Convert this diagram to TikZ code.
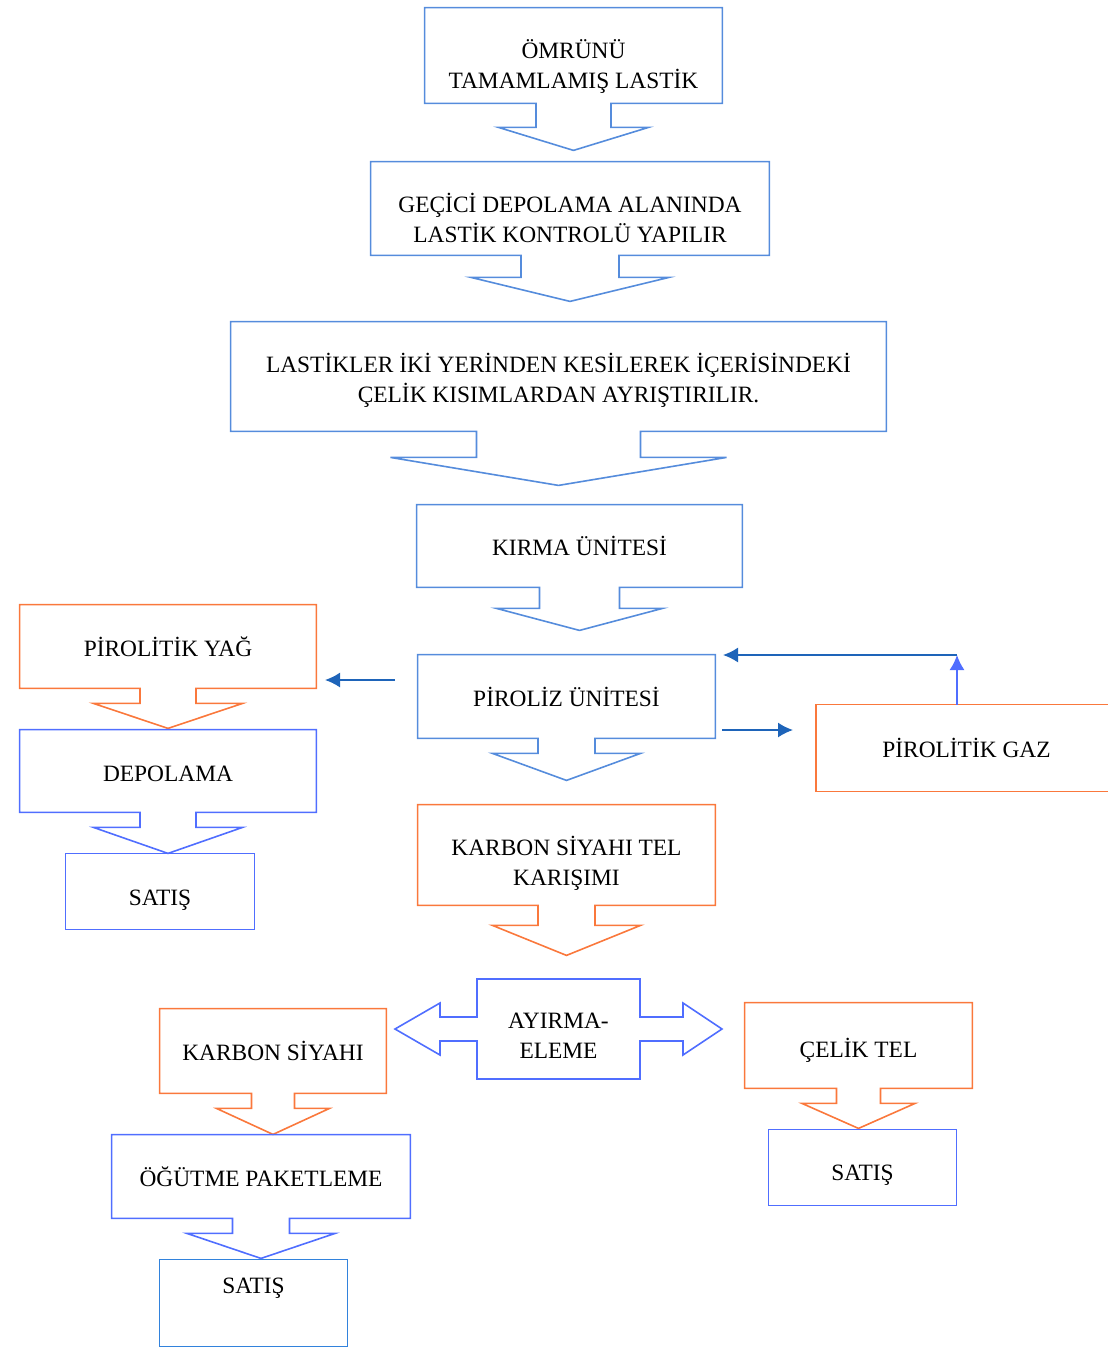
\documentclass[tikz,border=0pt]{standalone}
\usepackage{fontspec}
\setmainfont{Liberation Serif}
\usetikzlibrary{arrows.meta}
\usetikzlibrary{calc}

\definecolor{topblue}{RGB}{85,140,220}
\definecolor{violetblue}{RGB}{80,110,255}
\definecolor{satisblue}{RGB}{50,130,220}
\definecolor{boxorange}{RGB}{250,120,60}
\definecolor{arrowblue}{RGB}{30,100,185}

% box with a hollow arrow below it
% #1 node, #2 colour, #3 stem half width, #4 head half width, #5 stem length, #6 head length
\newcommand{\downcallout}[6]{%
  \draw[#2, outline] ($(#1.south)+(#3,0)$) -- (#1.south east) -- (#1.north east) -- (#1.north west) -- (#1.south west)
    -- ($(#1.south)+(-#3,0)$) -- ($(#1.south)+(-#3,#5)$) -- ($(#1.south)+(-#4,#5)$)
    -- ($(#1.south)+(0,#5+#6)$) -- ($(#1.south)+(#4,#5)$) -- ($(#1.south)+(#3,#5)$) -- cycle;}
% pushes the text of a box a little down
\newcommand{\topgap}[1]{\rule{0pt}{#1}}

\begin{document}
\begin{tikzpicture}[x=0.5pt, y=-0.5pt,
    box/.style={inner sep=0pt, align=center, font=\fontsize{11.7}{15}\selectfont}, % text boxes
    outline/.style={line width=0.8pt}, % box outlines
    flow/.style={-{Latex[length=7.5pt,width=7.5pt]}, line width=0.8pt, arrowblue} % thin arrows
]

% Page frame
\useasboundingbox (0,0) rectangle (1108,1350);

% Main column
\node[box, minimum width=148.5pt, minimum height=47.5pt] (omur) at (573.5,55.5) {\topgap{20pt}ÖMRÜNÜ\\TAMAMLAMIŞ LASTİK};
\node[box, minimum width=199pt, minimum height=46.5pt] (gecici) at (570,208.5) {\topgap{19pt}GEÇİCİ DEPOLAMA ALANINDA\\LASTİK KONTROLÜ YAPILIR};
\node[box, minimum width=327.5pt, minimum height=54.5pt] (kesme) at (558.5,376.5) {\topgap{13pt}LASTİKLER İKİ YERİNDEN KESİLEREK İÇERİSİNDEKİ\\ÇELİK KISIMLARDAN AYRIŞTIRILIR.};
\node[box, minimum width=162.5pt, minimum height=41pt] (kirma) at (579.5,546) {KIRMA ÜNİTESİ};
\node[box, minimum width=148.5pt, minimum height=41.5pt] (piroliz) at (566.5,696.5) {PİROLİZ ÜNİTESİ};
\node[box, minimum width=148.5pt, minimum height=50pt] (karisim) at (566.5,855) {\topgap{18pt}KARBON SİYAHI TEL\\KARIŞIMI};

\downcallout{omur}{topblue}{37.5}{75}{24}{23}
\downcallout{gecici}{topblue}{49}{99}{22}{24}
\downcallout{kesme}{topblue}{82}{168}{26}{28}
\downcallout{kirma}{topblue}{40}{83}{21}{22}
\downcallout{piroliz}{topblue}{28.5}{74}{15}{27}
\downcallout{karisim}{boxorange}{28.5}{74}{20}{30}

% Oil branch
\node[box, minimum width=148pt, minimum height=41.5pt] (yag) at (168,646.5) {PİROLİTİK YAĞ};
\node[box, minimum width=148pt, minimum height=41pt] (depolama) at (168,771) {\topgap{10.75pt}DEPOLAMA};
\node[box, minimum width=94pt, minimum height=37.5pt] (satisA) at (160,891.5) {\topgap{16.75pt}SATIŞ};

\downcallout{yag}{boxorange}{28}{74.5}{15}{25}
\downcallout{depolama}{violetblue}{28}{74.5}{15}{26}
\draw[violetblue, outline] (satisA.south west) rectangle (satisA.north east);

% Gas branch
\node[box, minimum width=150pt, minimum height=43pt] (gaz) at (966.5,748) {PİROLİTİK GAZ};
\draw[boxorange, outline] (gaz.south west) rectangle (gaz.north east);

\coordinate (oilOut) at (395,680);
\coordinate (oilIn) at (325,680);
\coordinate (gasOut) at (722,730);
\coordinate (gasIn) at (793,730);
\coordinate (gasUp) at (957,655);
\coordinate (gasBack) at (723,655);

\draw[flow] (oilOut) -- (oilIn);
\draw[flow] (gasOut) -- (gasIn);
\draw[flow, violetblue] (gasUp |- gaz.north) -- (gasUp);
\draw[flow] (gasUp) -- (gasBack);

% Separation
\draw[violetblue, outline] (477,979) -- (640,979) -- (640,1017) -- (683,1017) -- (683,1003) -- (722,1029)
    -- (683,1055) -- (683,1041) -- (640,1041) -- (640,1079) -- (477,1079) -- (477,1041) -- (440,1041)
    -- (440,1055) -- (395,1029) -- (440,1003) -- (440,1017) -- (477,1017) -- cycle;
\node[box] (ayirma) at (558.5,1036) {AYIRMA-\\ELEME};

% Carbon black branch
\node[box, minimum width=113pt, minimum height=42pt] (karbon) at (273,1051) {KARBON SİYAHI};
\node[box, minimum width=149pt, minimum height=41.5pt] (ogutme) at (261,1176.5) {ÖĞÜTME PAKETLEME};
\node[box, minimum width=93.5pt, minimum height=43pt, text depth=17.5pt] (satisC) at (253.5,1303) {SATIŞ};

\downcallout{karbon}{boxorange}{21.5}{56.5}{15}{26}
\downcallout{ogutme}{violetblue}{28.5}{74}{15}{25}
\draw[satisblue, outline] (satisC.south west) rectangle (satisC.north east);

% Steel wire branch
\node[box, minimum width=113.5pt, minimum height=42.5pt] (celik) at (858.5,1045.5) {\topgap{14pt}ÇELİK TEL};
\node[box, minimum width=93.5pt, minimum height=37.5pt] (satisB) at (862.5,1167.5) {\topgap{15.75pt}SATIŞ};

\downcallout{celik}{boxorange}{22}{56.5}{15}{25}
\draw[violetblue, outline] (satisB.south west) rectangle (satisB.north east);

\end{tikzpicture}
\end{document}
